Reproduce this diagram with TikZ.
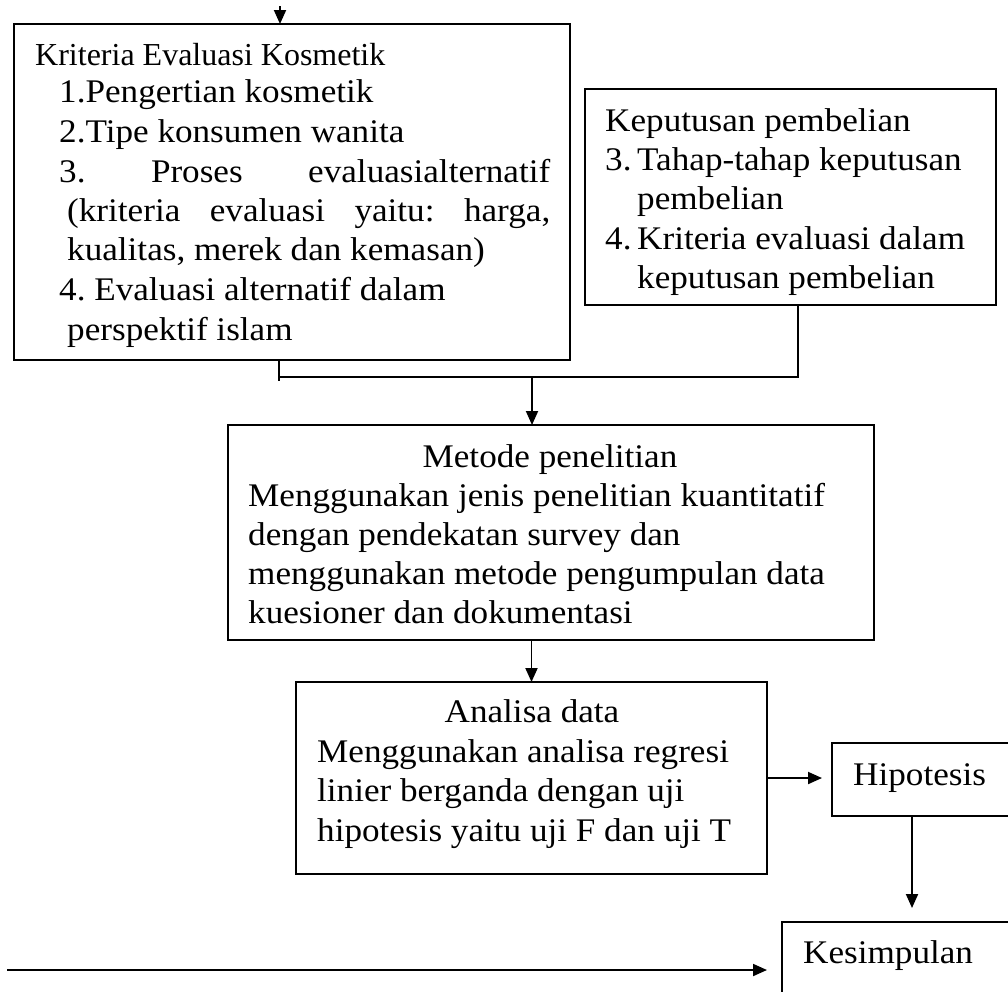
\documentclass[tikz,border=0pt]{standalone}
\usepackage{fontspec}
\setmainfont{Liberation Serif}[FakeStretch=1.065]
\newfontfamily\headfont{Liberation Serif}
\usetikzlibrary{arrows.meta}

\tikzset{
  box/.style={draw, line width=1.9pt, anchor=north west, inner sep=0pt, outer sep=0pt},
  ln/.style={anchor=base west, inner sep=0pt, font=\fontsize{33}{39}\selectfont\frenchspacing},
  lnc/.style={ln, anchor=base},
  link/.style={line width=1.9pt},
  arr/.style={line width=1.9pt, -{Triangle[length=14pt,width=12pt]}},
}

\begin{document}
\begin{tikzpicture}[x=1pt,y=-1pt]
\useasboundingbox (0,0) rectangle (1008,991);
\clip (0,0) rectangle (1008,991);

% boxes
\node[box, minimum width=556pt, minimum height=336pt] (krit) at (14,24) {};
\node[box, minimum width=411pt, minimum height=216pt] (kep) at (585,89) {};
\node[box, minimum width=646pt, minimum height=215pt] (met) at (228,425) {};
\node[box, minimum width=471pt, minimum height=192pt] (ana) at (296,682) {};
\node[box, minimum width=200pt, minimum height=73pt] (hip) at (832,743) {};
\node[box, minimum width=250pt, minimum height=90pt] (kes) at (782,922) {};

% Kriteria Evaluasi Kosmetik
\node[ln, font=\headfont\fontsize{32}{35}\selectfont] (k0) at (35,65) {Kriteria Evaluasi Kosmetik};
\node[ln] (k1) at (59,102) {1.Pengertian kosmetik};
\node[ln] (k2) at (59,142) {2.Tipe konsumen wanita};
\node[ln] (k3) at (59,182) {\makebox[491pt][s]{3. Proses evaluasialternatif}};
\node[ln] (k4) at (67,221) {\makebox[483pt][s]{(kriteria evaluasi yaitu: harga,}};
\node[ln] (k5) at (67,260) {kualitas, merek dan kemasan)};
\node[ln] (k6) at (59,300) {4. Evaluasi alternatif dalam};
\node[ln] (k7) at (67,340) {perspektif islam};

% Keputusan pembelian
\node[ln] (p0) at (605,131) {Keputusan pembelian};
\node[ln] (p1) at (605,170) {\makebox[32pt][l]{3.}Tahap-tahap keputusan};
\node[ln] (p2) at (637,209) {pembelian};
\node[ln] (p3) at (605,249) {\makebox[32pt][l]{4.}Kriteria evaluasi dalam};
\node[ln] (p4) at (637,288) {keputusan pembelian};

% Metode penelitian
\node[lnc] (m0) at (550,467) {Metode penelitian};
\node[ln] (m1) at (248,506) {Menggunakan jenis penelitian kuantitatif};
\node[ln] (m2) at (248,545) {dengan pendekatan survey dan};
\node[ln] (m3) at (248,584) {menggunakan metode pengumpulan data};
\node[ln] (m4) at (248,623) {kuesioner dan dokumentasi};

% Analisa data
\node[lnc] (a0) at (532,722) {Analisa data};
\node[ln] (a1) at (317,762) {Menggunakan analisa regresi};
\node[ln] (a2) at (317,801) {linier berganda dengan uji};
\node[ln] (a3) at (317,841) {hipotesis yaitu uji F dan uji T};

\node[ln] (h0) at (853,785) {Hipotesis};
\node[ln] (s1) at (803,963) {Kesimpulan};

% connectors
\coordinate (t0) at (280,6);
\draw[arr] (t0) -- (t0 |- krit.north);

\coordinate (jl) at (279,377);
\coordinate (jr) at (798,377);
\coordinate (jm) at (532,377);
\draw[link] (jl |- krit.south) -- ([yshift=-4pt]jl);
\draw[link] (jl) -- (jr) -- (jr |- kep.south);
\draw[arr] (jm) -- (jm |- met.north);

\draw[arr] (ana.north |- met.south) -- (ana.north);
\draw[arr, shorten >=10pt] (ana.east) -- (hip.west |- ana.east);

\coordinate (hk) at (912,0);
\draw[arr, shorten >=14pt] (hk |- hip.south) -- (hk |- kes.north);

\coordinate (s0) at (7,970);
\draw[arr, shorten >=15pt] (s0) -- (s0 -| kes.west);
\end{tikzpicture}
\end{document}
